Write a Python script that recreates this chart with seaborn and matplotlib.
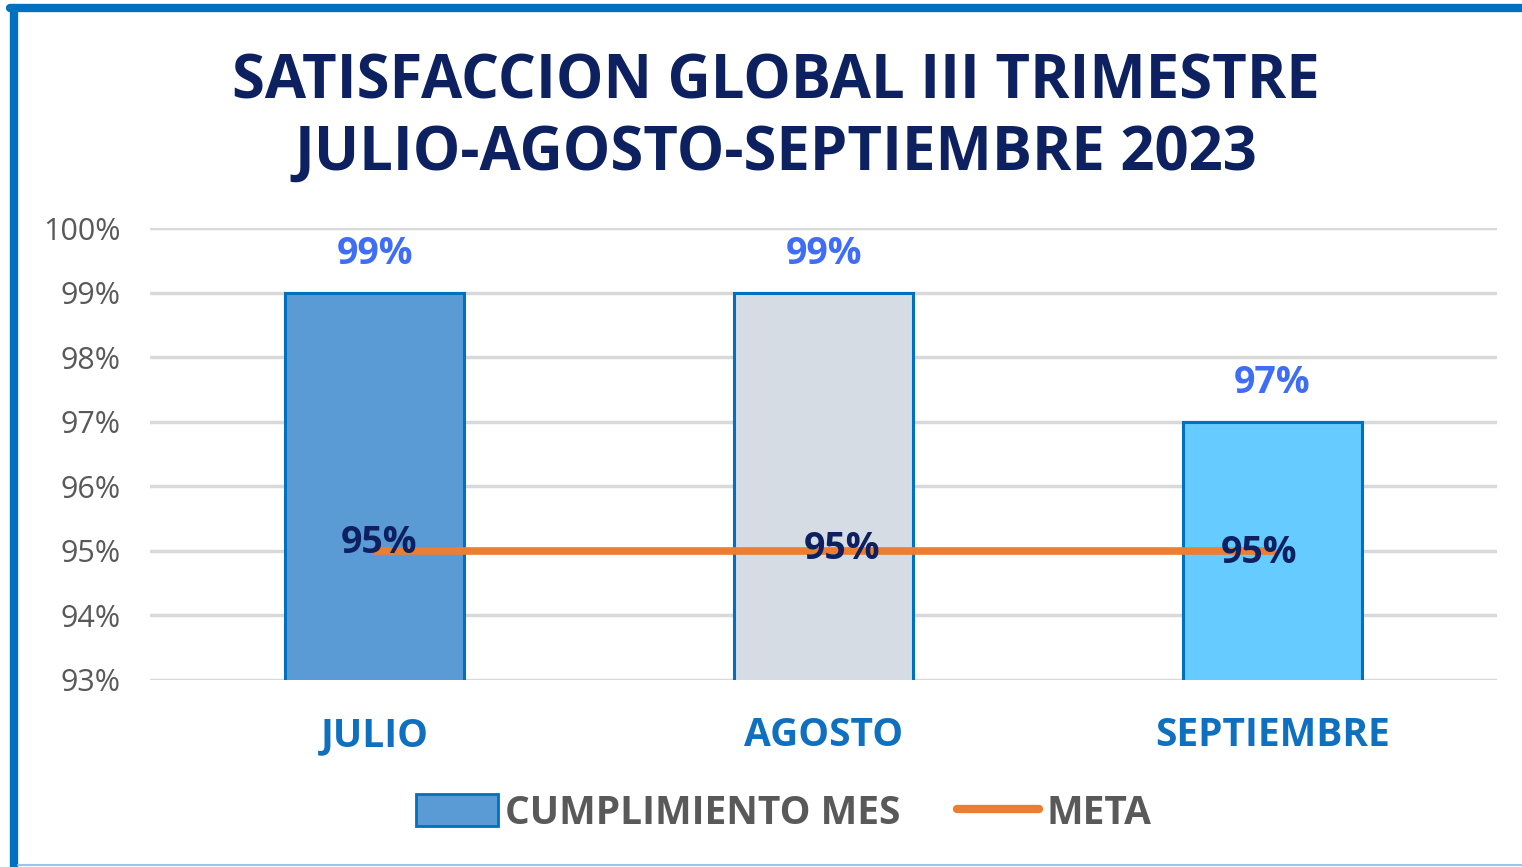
import matplotlib
matplotlib.use("Agg")
from matplotlib import pyplot as plt
from matplotlib.lines import Line2D
from matplotlib.patches import Patch
import seaborn as sns
import pandas as pd

meses = ["JULIO", "AGOSTO", "SEPTIEMBRE"]
cumplimiento = [99, 99, 97]
meta = [95, 95, 95]
colores_barras = ["#5B9BD5", "#D6DCE4", "#66CCFF"]
ticks_y = [93, 94, 95, 96, 97, 98, 99, 100]

titulo = "SATISFACCION GLOBAL III TRIMESTRE\nJULIO-AGOSTO-SEPTIEMBRE 2023"

sns.set_style("white")
plt.rcParams["font.family"] = ["Open Sans", "DejaVu Sans"]

df = pd.DataFrame({"mes": meses, "cumplimiento": cumplimiento, "meta": meta})

fig = plt.figure(figsize=(15.22, 8.67), dpi=100)
ax = fig.add_axes([0.0986, 0.2157, 0.885, 0.5213])

sns.barplot(data=df, x="mes", y="cumplimiento", hue="mes", palette=colores_barras,
            saturation=1, legend=False, width=0.4, edgecolor="#0070C0", linewidth=2.2,
            ax=ax, zorder=2)
sns.lineplot(data=df, x="mes", y="meta", color="#ED7D31", linewidth=5.5, ax=ax,
             zorder=3, sort=False)

ax.set_ylim(93, 100)
ax.set_xlim(-0.5, 2.5)
ax.set_yticks(ticks_y)
ax.set_yticklabels([f"{t}%" for t in ticks_y], color="#595959", fontsize=22)
ax.yaxis.grid(True, color="#D9D9D9", linewidth=2.5, zorder=0)
ax.set_axisbelow(True)
ax.tick_params(axis="y", length=0, pad=21)
ax.tick_params(axis="x", length=0, pad=26)
for lbl in ax.get_xticklabels():
    lbl.set_color("#1070C0")
    lbl.set_fontweight("bold")
    lbl.set_fontsize(28)
ax.set_xlabel("")
ax.set_ylabel("")
for s in ax.spines.values():
    s.set_visible(False)

# etiquetas de datos
for i, v in enumerate(cumplimiento):
    ax.text(i, v + 0.6, f"{v}%", ha="center", va="center", color="#3F6DF5",
            fontsize=27, fontweight="bold")
offsets = [0.01, 0.04, -0.03]
alturas = [95.12, 95.03, 94.97]
for i, v in enumerate(meta):
    ax.text(i + offsets[i], alturas[i], f"{v}%", ha="center", va="center",
            color="#0D2060", fontsize=27, fontweight="bold", zorder=4)

fig.text(0.51, 0.863, titulo, ha="center", va="center", color="#0D2060",
         fontsize=43, fontweight="bold", linespacing=1.22)

handles = [Patch(facecolor=colores_barras[0], edgecolor="#0070C0", linewidth=2),
           Line2D([0], [0], color="#ED7D31", linewidth=6, solid_capstyle="round")]
fig.legend(handles, ["CUMPLIMIENTO MES", "META"], loc="center", bbox_to_anchor=(0.515, 0.062),
           ncol=2, frameon=False, handlelength=2.1, handleheight=0.9, handletextpad=0.2,
           columnspacing=1.45, labelcolor="#595959", prop={"weight": "bold", "size": 28})

# marco del grafico
fig.add_artist(Line2D([14 / 1522, 14 / 1522], [0, 1 - 8 / 867], color="#0070C0",
                      linewidth=6, transform=fig.transFigure))
fig.add_artist(Line2D([10 / 1522, 1], [1 - 8 / 867, 1 - 8 / 867], color="#0070C0",
                      linewidth=6, transform=fig.transFigure))
fig.add_artist(Line2D([18 / 1522, 1], [2 / 867, 2 / 867], color="#9DC3E6",
                      linewidth=1.5, transform=fig.transFigure))

fig.savefig("out.png", dpi=100)
plt.close(fig)
